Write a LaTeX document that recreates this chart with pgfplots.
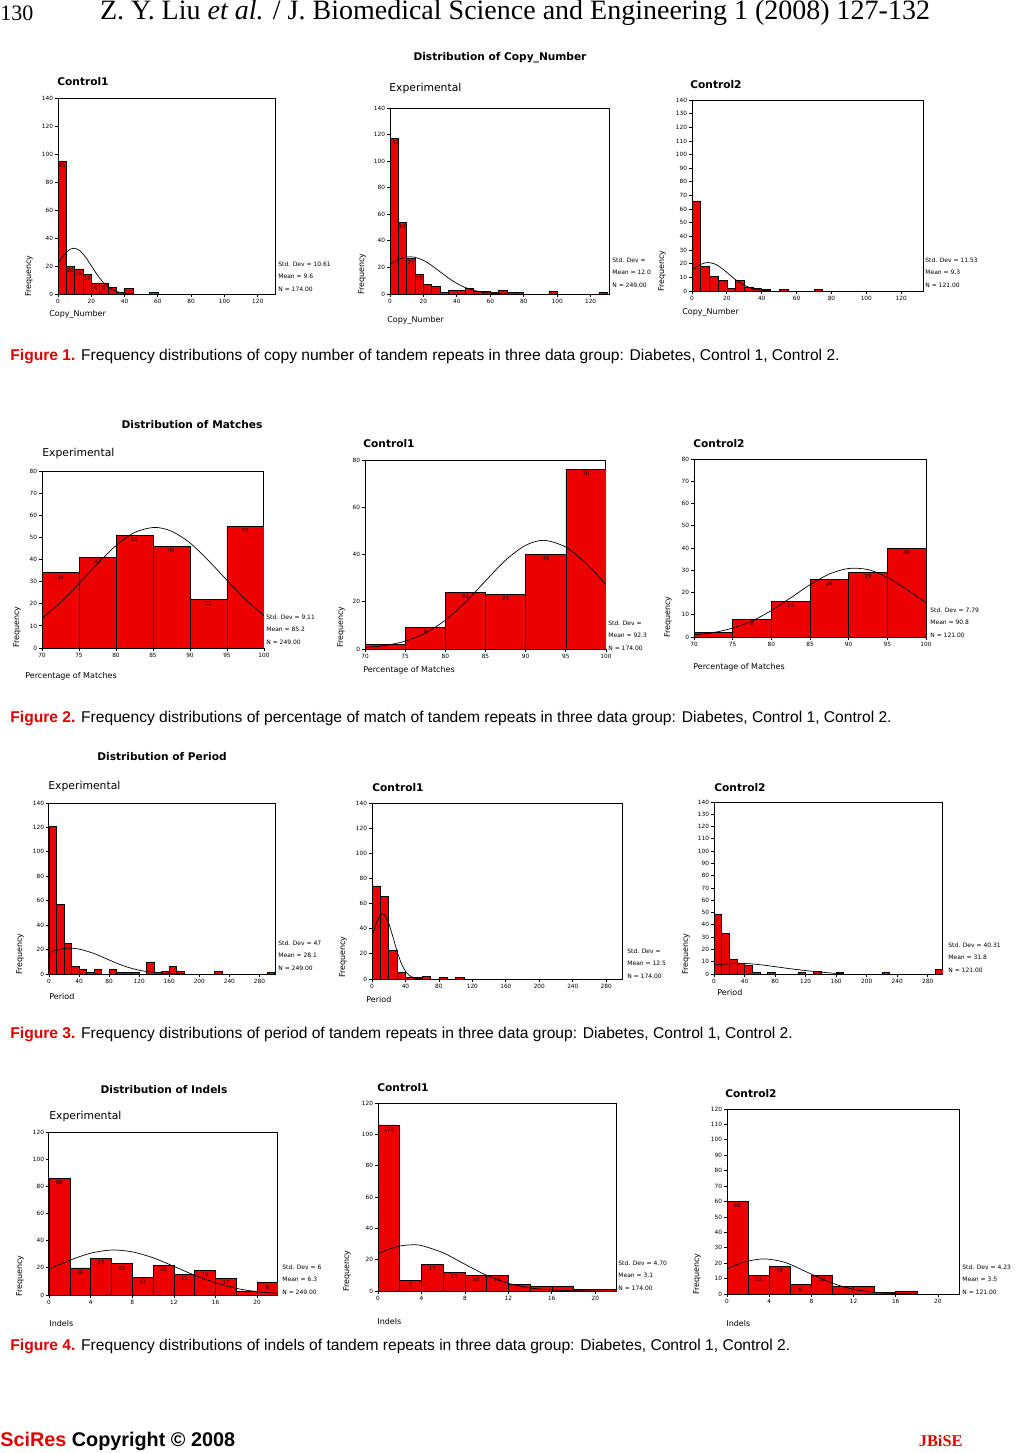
\documentclass[border=0pt]{standalone}
\usepackage{pgfplots}
\pgfplotsset{compat=1.18}
\usepackage{fontspec}
\setmainfont{Liberation Serif}
\newfontfamily\arial{Liberation Sans}
\newfontfamily\chartfont{DejaVu Sans}
\definecolor{barred}{RGB}{238,0,0}
\definecolor{figred}{RGB}{225,0,0}
\newcommand{\titlefont}{\chartfont\fontsize{5.4}{6}\selectfont}
\newcommand{\ctitlefont}{\chartfont\bfseries\fontsize{5.3}{6}\selectfont}
\newcommand{\maintitlefont}{\chartfont\bfseries\fontsize{5.3}{6}\selectfont}
\newcommand{\labfont}{\chartfont\fontsize{4}{5}\selectfont}
\newcommand{\statfont}{\chartfont\fontsize{3}{3.6}\selectfont}
\newcommand{\tickfont}{\chartfont\fontsize{2.9}{3.4}\selectfont}
\newcommand{\valfont}{\chartfont\fontsize{2.6}{3}\selectfont}
\newcommand{\capfont}{\arial\fontsize{7.8}{9}\selectfont}
\pgfplotsset{
  spss/.style={
    scale only axis, anchor=north west,
    enlargelimits=false, ymin=0,
    axis line style={line width=0.5pt},
    every tick/.style={black, line width=0.4pt},
    tick align=outside, xtick pos=bottom, ytick pos=left,
    major tick length=1.5pt,
    ticklabel style={font=\tickfont, inner sep=0.8pt},
    /pgf/number format/assume math mode=true,
    /pgf/number format/1000 sep={},
  },
  bars/.style={ybar interval, fill=barred, draw=black, line width=0.3pt},
  curve/.style={black, line width=0.35pt, smooth, mark=none},
  vals/.style={only marks, mark=none, nodes near coords, point meta=y,
    nodes near coords align={below},
    every node near coord/.append style={font=\valfont, inner sep=1pt, text=black}},
}
\tikzset{txt/.style={inner sep=0pt, anchor=west}}
\newcommand{\ylab}[2]{\node[rotate=90, anchor=west, inner sep=0pt, font=\labfont] at (#1,#2) {Frequency};}
\newcommand{\stats}[6]{%
  \node[txt, font=\statfont] at (#1,#2) {#4};
  \node[txt, font=\statfont] at (#1,#2+12.5) {#5};
  \node[txt, font=\statfont] at (#1,#2+25) {#6};}
\begin{document}
\begin{tikzpicture}[x=0.5pt,y=-0.5pt]
\useasboundingbox (0,0) rectangle (1029,1453);
\fill[white] (0,0) rectangle (1029,1453);
% header
\node[txt, font=\fontsize{11}{13}\selectfont] at (0,13) {130};
\node[inner sep=0pt, font=\fontsize{14}{16}\selectfont] at (515,13) {Z. Y. Liu \textit{et al.} / J. Biomedical Science and Engineering 1 (2008) 127-132};

% ================= Figure 1 =================
\begin{axis}[spss, at={(29pt,-49pt)}, width=109pt, height=98pt, xmin=0, xmax=131, ymax=140,
  xtick={0,20,...,120}, ytick={0,20,...,140}]
\addplot[bars] coordinates {(0,95)(5,20)(10,18)(15,14)(20,8)(25,8)(30,5)(35,1)(40,4)(45,0)(50,0)(55,1)(60,0)};
\addplot[curve] coordinates {(0,21.7)(2.5,26.1)(5,29.8)(7.5,32.1)(9.6,32.7)(12.5,31.5)(15,28.7)(17.5,24.8)(20,20.2)(22.5,15.6)(25,11.4)(27.5,7.9)(30,5.1)(32.5,3.2)(35,1.9)(37.5,1.0)(40,0.54)(42.5,0.27)(45,0.12)};
\addplot[vals] coordinates {(2.5,95)(7.5,20)(12.5,18)(17.5,14)(22.5,8)(27.5,8)};
\end{axis}
\node[txt, font=\ctitlefont] at (57,82) {Control1};
\node[txt, font=\labfont] at (49,314) {Copy\_Number};
\ylab{29}{297}
\stats{278}{264}{}{Std. Dev = 10.61}{Mean = 9.6}{N = 174.00}

\begin{axis}[spss, at={(195pt,-54pt)}, width=109.5pt, height=93pt, xmin=0, xmax=131, ymax=140,
  xtick={0,20,...,120}, ytick={0,20,...,140}]
\addplot[bars] coordinates {(0,117)(5,54)(10,27)(15,15)(20,7)(25,6)(30,1)(35,3)(40,3)(45,4)(50,2)(55,2)(60,1)(65,3)(70,1)(75,1)(80,0)(85,0)(90,0)(95,2)(100,0)(105,0)(110,0)(115,0)(120,0)(125,1)(130,0)};
\addplot[curve] coordinates {(0,22.3)(5,25.9)(10,27.8)(12,28.0)(15,27.6)(20,25.3)(25,21.4)(30,16.7)(35,12.0)(40,8.0)(45,4.9)(50,2.8)(55,1.5)(60,0.71)(65,0.32)(70,0.13)};
\addplot[vals] coordinates {(2.5,117)(7.5,54)(12.5,27)(17.5,15)};
\end{axis}
\node[inner sep=0pt, font=\maintitlefont] at (500,58) {Distribution of Copy\_Number};
\node[txt, font=\titlefont] at (389,89) {Experimental};
\node[txt, font=\labfont] at (387,320) {Copy\_Number};
\ylab{362}{295}
\stats{612}{260}{}{Std. Dev =}{Mean = 12.0}{N = 249.00}

\begin{axis}[spss, at={(346pt,-50pt)}, width=115.5pt, height=95.5pt, xmin=0, xmax=132.5, ymax=140,
  xtick={0,20,...,120}, ytick={0,10,...,140}]
\addplot[bars] coordinates {(0,66)(5,18)(10,11)(15,8)(20,2)(25,8)(30,3)(35,2)(40,1)(45,0)(50,1)(55,0)(60,0)(65,0)(70,1)(75,0)};
\addplot[curve] coordinates {(0,15.1)(2.5,17.6)(5,19.5)(7.5,20.6)(9.3,20.9)(12.5,20.1)(15,18.5)(17.5,16.2)(20,13.6)(22.5,10.9)(25,8.3)(27.5,6.0)(30,4.2)(32.5,2.8)(35,1.74)(37.5,1.05)(40,0.6)(45,0.17)};
\end{axis}
\node[txt, font=\ctitlefont] at (690,85) {Control2};
\node[txt, font=\labfont] at (682,312) {Copy\_Number};
\ylab{662}{292}
\stats{925}{260}{}{Std. Dev = 11.53}{Mean = 9.3}{N = 121.00}

\node[txt, font=\capfont] at (10,356) {\textcolor{figred}{\textbf{Figure 1.}} Frequency distributions of copy number of tandem repeats in three data group: Diabetes, Control 1, Control 2.};

% ================= Figure 2 =================
\begin{axis}[spss, at={(21pt,-235.5pt)}, width=111pt, height=88.5pt, xmin=70, xmax=100, ymax=80,
  xtick={70,75,...,100}, ytick={0,10,...,80}]
\addplot[bars] coordinates {(70,34)(75,41)(80,51)(85,46)(90,22)(95,55)(100,0)};
\addplot[curve] coordinates {(70,13.5)(72.5,20.6)(75,29.1)(77.5,38.1)(80,46.3)(82.5,52.2)(85.2,54.5)(87.5,52.8)(90,47.5)(92.5,39.5)(95,30.6)(97.5,21.9)(100,14.6)};
\addplot[vals] coordinates {(72.5,34)(77.5,41)(82.5,51)(87.5,46)(92.5,22)(97.5,55)};
\end{axis}
\node[inner sep=0pt, font=\maintitlefont] at (192,425) {Distribution of Matches};
\node[txt, font=\titlefont] at (42,454) {Experimental};
\node[txt, font=\labfont] at (25,676) {Percentage of Matches};
\ylab{17}{648}
\stats{266}{617}{}{Std. Dev = 9.11}{Mean = 85.2}{N = 249.00}

\begin{axis}[spss, at={(182.5pt,-230pt)}, width=120.5pt, height=94.5pt, xmin=70, xmax=100, ymax=80,
  xtick={70,75,...,100}, ytick={0,20,...,80}]
\addplot[bars] coordinates {(70,2)(75,9)(80,24)(85,23)(90,40)(95,76)(100,0)};
\addplot[curve] coordinates {(70,0.6)(72.5,1.5)(75,3.3)(77.5,6.7)(80,12.2)(82.5,19.8)(85,28.8)(87.5,37.6)(90,43.9)(92.3,46)(95,43.1)(97.5,36.3)(100,27.3)};
\addplot[vals] coordinates {(77.5,9)(82.5,24)(87.5,23)(92.5,40)(97.5,76)};
\end{axis}
\node[txt, font=\ctitlefont] at (363,444) {Control1};
\node[txt, font=\labfont] at (363,670) {Percentage of Matches};
\ylab{341}{648}
\stats{608}{623}{}{Std. Dev =}{Mean = 92.3}{N = 174.00}

\begin{axis}[spss, at={(347pt,-229.5pt)}, width=116pt, height=89pt, xmin=70, xmax=100, ymax=80,
  xtick={70,75,...,100}, ytick={0,10,...,80}]
\addplot[bars] coordinates {(70,2)(75,8)(80,16)(85,26)(90,29)(95,40)(100,0)};
\addplot[curve] coordinates {(70,0.9)(72.5,2.0)(75,4.0)(77.5,7.2)(80,11.9)(82.5,17.6)(85,23.5)(87.5,28.3)(90,30.8)(92.5,30.3)(95,26.8)(97.5,21.4)(100,15.4)};
\addplot[vals] coordinates {(77.5,8)(82.5,16)(87.5,26)(92.5,29)(97.5,40)};
\end{axis}
\node[txt, font=\ctitlefont] at (693,444) {Control2};
\node[txt, font=\labfont] at (693,667) {Percentage of Matches};
\ylab{668}{638}
\stats{930}{610}{}{Std. Dev = 7.79}{Mean = 90.8}{N = 121.00}

\node[txt, font=\capfont] at (10,718) {\textcolor{figred}{\textbf{Figure 2.}} Frequency distributions of percentage of match of tandem repeats in three data group: Diabetes, Control 1, Control 2.};

% ================= Figure 3 =================
\begin{axis}[spss, at={(24.5pt,-401.5pt)}, width=113.5pt, height=85.5pt, xmin=0, xmax=302, ymax=140,
  xtick={0,40,...,280}, ytick={0,20,...,140}]
\addplot[bars] coordinates {(0,121)(10,57)(20,25)(30,6)(40,4)(50,1)(60,4)(70,0)(80,4)(90,1)(100,1)(110,1)(120,0)(130,10)(140,1)(150,2)(160,6)(170,2)(180,0)(190,0)(200,0)(210,0)(220,2)(230,0)(240,0)(250,0)(260,0)(270,0)(280,0)(290,1)(300,0)};
\addplot[curve] coordinates {(0,17.7)(10,19.6)(20,20.8)(28,21.1)(40,20.4)(60,16.8)(80,11.5)(100,6.5)(120,3.1)(140,1.24)(160,0.41)(180,0.11)};
\end{axis}
\node[inner sep=0pt, font=\maintitlefont] at (162,757) {Distribution of Period};
\node[txt, font=\titlefont] at (48,787) {Experimental};
\node[txt, font=\labfont] at (49,997) {Period};
\ylab{20}{975}
\stats{278}{943}{}{Std. Dev = 47}{Mean = 28.1}{N = 249.00}

\begin{axis}[spss, at={(186pt,-401.5pt)}, width=125.5pt, height=88pt, xmin=0, xmax=300, ymax=140,
  xtick={0,40,...,280}, ytick={0,20,...,140}]
\addplot[bars] coordinates {(0,74)(10,66)(20,23)(30,5)(40,1)(50,1)(60,2)(70,0)(80,1)(90,0)(100,1)(110,0)};
\addplot[curve] coordinates {(0,33.5)(5,44.4)(10,51.1)(12.5,52)(15,51.1)(20,44.4)(25,33.5)(30,22.0)(35,12.5)(40,6.2)(45,2.7)(50,1.0)(55,0.33)(60,0.09)};
\end{axis}
\node[txt, font=\ctitlefont] at (372,788) {Control1};
\node[txt, font=\labfont] at (366,1000) {Period};
\ylab{343}{978}
\stats{627}{951}{}{Std. Dev =}{Mean = 12.5}{N = 174.00}

\begin{axis}[spss, at={(357pt,-401pt)}, width=114.5pt, height=86pt, xmin=0, xmax=300, ymax=140,
  xtick={0,40,...,280}, ytick={0,10,...,140}]
\addplot[bars] coordinates {(0,49)(10,33)(20,12)(30,9)(40,7)(50,1)(60,0)(70,1)(80,0)(90,0)(100,0)(110,1)(120,0)(130,2)(140,0)(150,0)(160,1)(170,0)(180,0)(190,0)(200,0)(210,0)(220,1)(230,0)(240,0)(250,0)(260,0)(270,0)(280,0)(290,4)(300,0)};
\addplot[curve] coordinates {(0,7.3)(20,8.3)(40,8.6)(60,7.6)(80,6.0)(100,4.3)(120,2.8)(140,1.6)(150,1.0)(160,0.5)(170,0.2)};
\end{axis}
\node[txt, font=\ctitlefont] at (714,788) {Control2};
\node[txt, font=\labfont] at (717,993) {Period};
\ylab{686}{975}
\stats{948}{945}{}{Std. Dev = 40.31}{Mean = 31.8}{N = 121.00}

\node[txt, font=\capfont] at (10,1034) {\textcolor{figred}{\textbf{Figure 3.}} Frequency distributions of period of tandem repeats in three data group: Diabetes, Control 1, Control 2.};

% ================= Figure 4 =================
\begin{axis}[spss, at={(24.5pt,-566pt)}, width=114.5pt, height=81.5pt, xmin=0, xmax=22, ymax=120,
  xtick={0,4,...,20}, ytick={0,20,...,120}]
\addplot[bars] coordinates {(0,86)(2,20)(4,27)(6,23)(8,13)(10,22)(12,15)(14,18)(16,12)(18,3)(20,9)(22,0)};
\addplot[curve] coordinates {(0,19.1)(2,25.6)(4,30.8)(6,33.1)(8,31.8)(10,27.4)(12,21.1)(14,14.5)(16,9.0)(18,4.9)(20,2.4)(22,1.1)};
\addplot[vals] coordinates {(1,86)(3,20)(5,27)(7,23)(9,13)(11,22)(13,15)(15,18)(17,12)(21,9)};
\end{axis}
\node[inner sep=0pt, font=\maintitlefont] at (164,1090) {Distribution of Indels};
\node[txt, font=\titlefont] at (49,1117) {Experimental};
\node[txt, font=\labfont] at (49,1324) {Indels};
\ylab{20}{1297}
\stats{282}{1267}{}{Std. Dev = 6}{Mean = 6.3}{N = 249.00}

\begin{axis}[spss, at={(189pt,-551.5pt)}, width=119.5pt, height=94pt, xmin=0, xmax=22, ymax=120,
  xtick={0,4,...,20}, ytick={0,20,...,120}]
\addplot[bars] coordinates {(0,106)(2,7)(4,17)(6,12)(8,10)(10,10)(12,4)(14,3)(16,3)(18,1)(20,1)(22,0)};
\addplot[curve] coordinates {(0,23.8)(1,26.7)(2,28.7)(3.1,29.5)(4,29.0)(6,24.4)(8,17.1)(10,10.0)(12,4.9)(14,2.0)(16,0.68)(18,0.19)(20,0.05)};
\addplot[vals] coordinates {(1,106)(3,7)(5,17)(7,12)(9,10)(11,10)};
\end{axis}
\node[txt, font=\ctitlefont] at (377,1088) {Control1};
\node[txt, font=\labfont] at (377,1321) {Indels};
\ylab{347}{1292}
\stats{618}{1263}{}{Std. Dev = 4.70}{Mean = 3.1}{N = 174.00}

\begin{axis}[spss, at={(363.5pt,-554.5pt)}, width=116pt, height=92.5pt, xmin=0, xmax=22, ymax=120,
  xtick={0,4,...,20}, ytick={0,10,...,120}]
\addplot[bars] coordinates {(0,60)(2,12)(4,18)(6,6)(8,12)(10,5)(12,5)(14,1)(16,2)(18,0)(20,0)(22,0)};
\addplot[curve] coordinates {(0,16.2)(1,19.2)(2,21.4)(3.5,22.8)(5,21.4)(6,19.2)(8,12.9)(10,7.0)(12,3.0)(14,1.05)(16,0.29)(18,0.06)};
\addplot[vals] coordinates {(1,60)(3,12)(5,18)(7,6)(9,12)};
\end{axis}
\node[txt, font=\ctitlefont] at (725,1094) {Control2};
\node[txt, font=\labfont] at (726,1323) {Indels};
\ylab{697}{1295}
\stats{962}{1267}{}{Std. Dev = 4.23}{Mean = 3.5}{N = 121.00}

\node[txt, font=\capfont] at (10,1346) {\textcolor{figred}{\textbf{Figure 4.}} Frequency distributions of indels of tandem repeats in three data group: Diabetes, Control 1, Control 2.};

% footer
\node[txt, font=\arial\bfseries\fontsize{9.9}{11}\selectfont] at (0,1441) {\textcolor{figred}{SciRes} Copyright © 2008};
\node[inner sep=0pt, anchor=east, font=\bfseries\fontsize{8.2}{10}\selectfont, text=figred] at (963,1441) {JBiSE};
\end{tikzpicture}
\end{document}
